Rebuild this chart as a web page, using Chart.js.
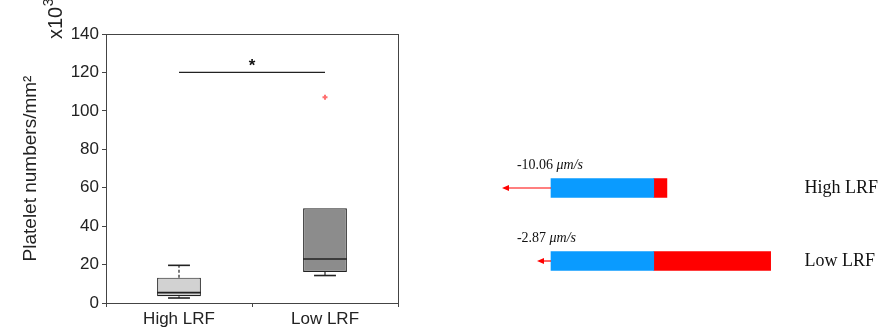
<!DOCTYPE html>
<html><head><meta charset="utf-8">
<script src="https://cdn.jsdelivr.net/npm/chart.js@4"></script>
<style>
html,body{margin:0;padding:0;background:#fff;}
#wrap{position:relative;width:884px;height:333px;}
#cl{position:absolute;left:0;top:0;}
#cr{position:absolute;left:420px;top:0;}
</style></head>
<body><div id="wrap"><canvas id="cl" width="420" height="333"></canvas><canvas id="cr" width="464" height="333"></canvas></div>
<script>
// ---- Box plot data (platelet numbers/mm², x10^3) ----
const categories = ['High LRF', 'Low LRF'];
const whiskerLow = [2.6, 14.3];
const boxQ1 = [3.5, 16.1];
const boxMedian = [5.4, 22.9];
const boxQ3 = [13.2, 49.3];
const whiskerHigh = [19.6, 49.3];
const outlierValues = [null, 107.1];
const sigLevel = [120, 120];
const yTicks = [0, 20, 40, 60, 80, 100, 120, 140];

// ---- Flow schematic data ----
const flowLabels = ['High LRF', 'Low LRF'];
const velocities = [-10.06, -2.87];
const velocityText = ['-10.06', '-2.87'];
const blueSeg = [21.1, 21.1];
const redSeg = [2.7, 24.0];

Chart.defaults.font.family = '"Liberation Sans", Arial, sans-serif';
Chart.defaults.animation = false;

const boxPlugin = {
  id: 'boxExtras',
  afterDatasetsDraw(chart) {
    const ctx = chart.ctx, xs = chart.scales.x, ys = chart.scales.y;
    const meta = chart.getDatasetMeta(0);
    ctx.save();
    ctx.strokeStyle = '#222';
    categories.forEach((c, i) => {
      const bar = meta.data[i];
      const cx = xs.getPixelForValue(i);
      const half = bar.width / 2;
      const cap = bar.width / 4;
      // median
      ctx.lineWidth = 1.6;
      ctx.beginPath();
      ctx.moveTo(cx - half, ys.getPixelForValue(boxMedian[i]));
      ctx.lineTo(cx + half, ys.getPixelForValue(boxMedian[i]));
      ctx.stroke();
      // upper whisker
      if (whiskerHigh[i] > boxQ3[i]) {
        ctx.lineWidth = 1.2;
        ctx.setLineDash([3, 2]);
        ctx.beginPath();
        ctx.moveTo(cx, ys.getPixelForValue(boxQ3[i]));
        ctx.lineTo(cx, ys.getPixelForValue(whiskerHigh[i]));
        ctx.stroke();
        ctx.setLineDash([]);
        ctx.lineWidth = 1.6;
        ctx.beginPath();
        ctx.moveTo(cx - cap, ys.getPixelForValue(whiskerHigh[i]));
        ctx.lineTo(cx + cap, ys.getPixelForValue(whiskerHigh[i]));
        ctx.stroke();
      }
      // lower whisker
      if (whiskerLow[i] < boxQ1[i]) {
        ctx.lineWidth = 1.2;
        ctx.beginPath();
        ctx.moveTo(cx, ys.getPixelForValue(boxQ1[i]));
        ctx.lineTo(cx, ys.getPixelForValue(whiskerLow[i]));
        ctx.stroke();
        ctx.lineWidth = 1.6;
        ctx.beginPath();
        ctx.moveTo(cx - cap, ys.getPixelForValue(whiskerLow[i]));
        ctx.lineTo(cx + cap, ys.getPixelForValue(whiskerLow[i]));
        ctx.stroke();
      }
    });
    // significance asterisk
    const mx = (xs.getPixelForValue(0) + xs.getPixelForValue(1)) / 2;
    ctx.fillStyle = '#111';
    ctx.font = 'bold 17px "Liberation Sans", Arial, sans-serif';
    ctx.textAlign = 'center';
    ctx.textBaseline = 'middle';
    ctx.fillText('*', mx, ys.getPixelForValue(sigLevel[0]) - 6);
    // frame
    const a = chart.chartArea;
    ctx.strokeStyle = '#444';
    ctx.lineWidth = 1;
    ctx.strokeRect(a.left + 0.5, a.top + 0.5, a.right - a.left, a.bottom - a.top);
    // multiplier x10^3 (rotated)
    ctx.save();
    ctx.translate(62, 39);
    ctx.rotate(-Math.PI / 2);
    ctx.fillStyle = '#222';
    ctx.textAlign = 'left';
    ctx.textBaseline = 'alphabetic';
    ctx.font = '20px "Liberation Sans", Arial, sans-serif';
    ctx.fillText('x10', 0, 0);
    const w = ctx.measureText('x10').width;
    ctx.font = '14px "Liberation Sans", Arial, sans-serif';
    ctx.fillText('3', w + 0.5, -9);
    ctx.restore();
    ctx.restore();
  }
};

new Chart(document.getElementById('cl'), {
  type: 'bar',
  data: {
    labels: categories,
    datasets: [
      {
        type: 'bar',
        data: categories.map((c, i) => [boxQ1[i], boxQ3[i]]),
        backgroundColor: ['#d2d2d2', '#8c8c8c'],
        borderColor: '#222',
        borderWidth: 1.2,
        borderSkipped: false,
        categoryPercentage: 1,
        barPercentage: 0.3,
        order: 2
      },
      {
        type: 'line',
        data: sigLevel,
        borderColor: '#222',
        borderWidth: 1.3,
        pointRadius: 0,
        order: 1
      },
      {
        type: 'line',
        data: outlierValues,
        showLine: false,
        pointStyle: 'cross',
        pointRadius: 2.5,
        borderColor: '#ff7070',
        backgroundColor: '#ff7070',
        borderWidth: 2,
        order: 0
      }
    ]
  },
  options: {
    responsive: false,
    layout: { padding: { top: 34, right: 22, left: 0, bottom: 0 } },
    plugins: { legend: { display: false }, tooltip: { enabled: false } },
    scales: {
      x: {
        grid: { drawOnChartArea: false, drawTicks: true, tickLength: 4, color: '#444' },
        border: { color: '#444' },
        ticks: { color: '#222', font: { size: 17 }, padding: 2 },
        afterFit(s) { s.height = 30; }
      },
      y: {
        min: 0, max: 140,
        afterBuildTicks(s) { s.ticks = yTicks.map(v => ({ value: v })); },
        grid: { drawOnChartArea: false, drawTicks: true, tickLength: 4, color: '#444' },
        border: { color: '#444' },
        ticks: { color: '#222', font: { size: 17 }, padding: 3 },
        title: { display: true, text: 'Platelet numbers/mm²', color: '#222', font: { size: 19 }, padding: { top: 19, bottom: 0 } },
        afterFit(s) { s.width = 106; }
      }
    }
  },
  plugins: [boxPlugin]
});

const flowPlugin = {
  id: 'flowExtras',
  afterDatasetsDraw(chart) {
    const ctx = chart.ctx, xs = chart.scales.x, ys = chart.scales.y;
    const x0 = xs.getPixelForValue(0);
    ctx.save();
    flowLabels.forEach((l, i) => {
      const cy = ys.getPixelForValue(i);
      const xt = xs.getPixelForValue(velocities[i]);
      // arrow
      ctx.strokeStyle = '#ff0000';
      ctx.fillStyle = '#ff0000';
      ctx.lineWidth = 1.2;
      ctx.beginPath();
      ctx.moveTo(x0, cy);
      ctx.lineTo(xt + 4, cy);
      ctx.stroke();
      ctx.beginPath();
      ctx.moveTo(xt, cy);
      ctx.lineTo(xt + 7, cy - 3);
      ctx.lineTo(xt + 7, cy + 3);
      ctx.closePath();
      ctx.fill();
      // velocity text
      const tx = xs.getPixelForValue(-7);
      const ty = cy - 23;
      ctx.fillStyle = '#111';
      ctx.textAlign = 'left';
      ctx.textBaseline = 'middle';
      ctx.font = '14px "Liberation Serif", "DejaVu Serif", serif';
      const t1 = velocityText[i] + ' ';
      ctx.fillText(t1, tx, ty);
      const w = ctx.measureText(t1).width;
      ctx.font = 'italic 14px "Liberation Serif", "DejaVu Serif", serif';
      ctx.fillText('μm/s', tx + w, ty);
    });
    ctx.restore();
  }
};

new Chart(document.getElementById('cr'), {
  type: 'bar',
  data: {
    labels: flowLabels,
    datasets: [
      { data: blueSeg, backgroundColor: '#0a9bff', barThickness: 19 },
      { data: redSeg, backgroundColor: '#ff0000', barThickness: 19 }
    ]
  },
  options: {
    indexAxis: 'y',
    responsive: false,
    layout: { padding: { top: 151.5, bottom: 35.5, left: 33.6, right: 0 } },
    plugins: { legend: { display: false }, tooltip: { enabled: false } },
    scales: {
      x: { stacked: true, display: false, min: -20, max: 50 },
      y: {
        stacked: true,
        position: 'right',
        grid: { display: false, drawTicks: false },
        border: { display: false },
        ticks: { color: '#111', font: { size: 18, family: '"Liberation Serif", "DejaVu Serif", serif' }, padding: 10 },
        afterFit(s) { s.width = 89.5; }
      }
    }
  },
  plugins: [flowPlugin]
});
</script>
</body></html>
